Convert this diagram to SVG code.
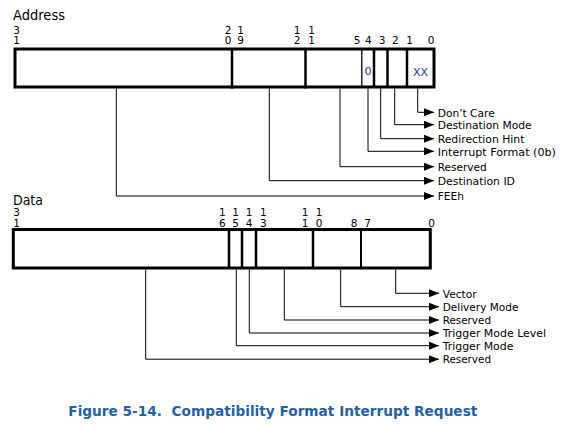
<svg xmlns="http://www.w3.org/2000/svg" width="562" height="426" viewBox="0 0 562 426">
<style>
.box{fill:#fff;stroke:#000;stroke-width:3}
.div{stroke:#000;stroke-width:2.5}
.thin{stroke:#000;stroke-width:1.3}
.conn{fill:none;stroke:#000;stroke-width:1;marker-end:url(#arr)}
.title{font-family:"DejaVu Sans",Verdana,sans-serif;font-size:13.5px;fill:#000}
.bit{font-family:"DejaVu Sans",Verdana,sans-serif;font-size:10.5px;fill:#000;text-anchor:middle}
.lbl{font-family:"DejaVu Sans",Tahoma,sans-serif;font-size:11px;fill:#000}
.fld{font-family:"DejaVu Sans",Tahoma,sans-serif;font-size:11px;fill:#1a3a8a;text-anchor:middle}
.cap{font-family:"DejaVu Sans",Verdana,sans-serif;font-size:14px;font-weight:bold;fill:#1f5fae}
</style>
<defs>
<marker id="arr" markerUnits="userSpaceOnUse" markerWidth="10" markerHeight="8" refX="10" refY="4" orient="auto">
<path d="M0,0 L10,4 L0,8 z" fill="#000"/>
</marker>
</defs>

<g id="address">
<text class="title" x="13" y="20" textLength="52" lengthAdjust="spacingAndGlyphs">Address</text>
<rect class="box" x="15" y="49" width="419" height="38"/>
<line class="div" x1="232" y1="49" x2="232" y2="88.5"/>
<line class="div" x1="305.5" y1="49" x2="305.5" y2="88.5"/>
<line class="thin" x1="361.8" y1="49" x2="361.8" y2="87"/>
<line class="div" x1="374" y1="49" x2="374" y2="87"/>
<line class="div" x1="387.5" y1="49" x2="387.5" y2="87"/>
<line class="div" x1="407" y1="49" x2="407" y2="87"/>
<g class="bits">
<text class="bit" x="16.7" y="34.3">3<tspan x="16.7" dy="10">1</tspan></text>
<text class="bit" x="228" y="34.3">2<tspan x="228" dy="10">0</tspan></text>
<text class="bit" x="240.7" y="34.3">1<tspan x="240.7" dy="10">9</tspan></text>
<text class="bit" x="297" y="34.3">1<tspan x="297" dy="10">2</tspan></text>
<text class="bit" x="311.7" y="34.3">1<tspan x="311.7" dy="10">1</tspan></text>
<text class="bit" x="357" y="44.3">5</text>
<text class="bit" x="368.3" y="44.3">4</text>
<text class="bit" x="382" y="44.3">3</text>
<text class="bit" x="395.3" y="44.3">2</text>
<text class="bit" x="409.7" y="44.3">1</text>
<text class="bit" x="431" y="44.3">0</text>
</g>
<text class="fld" x="368" y="75">0</text>
<text class="fld" x="420.5" y="76">XX</text>
</g>

<g id="data">
<text class="title" x="13" y="205" textLength="30" lengthAdjust="spacingAndGlyphs">Data</text>
<rect class="box" x="13.3" y="229.5" width="417" height="38.5"/>
<line class="div" x1="229" y1="229.5" x2="229" y2="268"/>
<line class="div" x1="242" y1="229.5" x2="242" y2="268"/>
<line class="div" x1="256" y1="229.5" x2="256" y2="268"/>
<line class="div" x1="313" y1="229.5" x2="313" y2="268"/>
<line class="div" x1="361" y1="229.5" x2="361" y2="268" style="stroke-width:2"/>
<g class="bits">
<text class="bit" x="16.7" y="216">3<tspan x="16.7" dy="10.7">1</tspan></text>
<text class="bit" x="222.3" y="216">1<tspan x="222.3" dy="10.7">6</tspan></text>
<text class="bit" x="235.7" y="216">1<tspan x="235.7" dy="10.7">5</tspan></text>
<text class="bit" x="249" y="216">1<tspan x="249" dy="10.7">4</tspan></text>
<text class="bit" x="263.3" y="216">1<tspan x="263.3" dy="10.7">3</tspan></text>
<text class="bit" x="305" y="216">1<tspan x="305" dy="10.7">1</tspan></text>
<text class="bit" x="319" y="216">1<tspan x="319" dy="10.7">0</tspan></text>
<text class="bit" x="354.2" y="226.7">8</text>
<text class="bit" x="367.5" y="226.7">7</text>
<text class="bit" x="431.7" y="226.7">0</text>
</g>
</g>

<g id="connectors">
<path class="conn" d="M417.7,88.5 V112.3 H434"/>
<path class="conn" d="M394.7,88.5 V124.7 H434"/>
<path class="conn" d="M380.7,88.5 V138.7 H434"/>
<path class="conn" d="M368,88.5 V151.3 H434"/>
<path class="conn" d="M340,88.5 V166.7 H434"/>
<path class="conn" d="M269.3,88.5 V180.7 H434"/>
<path class="conn" d="M116.3,88.5 V196 H434"/>

<path class="conn" d="M395.7,269.5 V293.3 H439"/>
<path class="conn" d="M340.7,269.5 V306.7 H439"/>
<path class="conn" d="M284.3,269.5 V320 H439"/>
<path class="conn" d="M249.3,269.5 V333 H439"/>
<path class="conn" d="M236.3,269.5 V345.7 H439"/>
<path class="conn" d="M145.7,269.5 V359.2 H439"/>
</g>

<g id="labels">
<text class="lbl" x="437.7" y="116.5" textLength="57" lengthAdjust="spacingAndGlyphs">Don’t Care</text>
<text class="lbl" x="437.7" y="128.9" textLength="94" lengthAdjust="spacingAndGlyphs">Destination Mode</text>
<text class="lbl" x="437.7" y="142.9" textLength="86.7" lengthAdjust="spacingAndGlyphs">Redirection Hint</text>
<text class="lbl" x="437.7" y="155.5" textLength="118.3" lengthAdjust="spacingAndGlyphs">Interrupt Format (0b)</text>
<text class="lbl" x="437.7" y="170.9" textLength="49" lengthAdjust="spacingAndGlyphs">Reserved</text>
<text class="lbl" x="437.7" y="184.9" textLength="77.3" lengthAdjust="spacingAndGlyphs">Destination ID</text>
<text class="lbl" x="437.7" y="200.2" textLength="26.3" lengthAdjust="spacingAndGlyphs">FEEh</text>

<text class="lbl" x="442.7" y="297.5" textLength="34" lengthAdjust="spacingAndGlyphs">Vector</text>
<text class="lbl" x="442.7" y="310.9" textLength="75.7" lengthAdjust="spacingAndGlyphs">Delivery Mode</text>
<text class="lbl" x="442.7" y="324.2" textLength="48.3" lengthAdjust="spacingAndGlyphs">Reserved</text>
<text class="lbl" x="442.7" y="337.2" textLength="103.3" lengthAdjust="spacingAndGlyphs">Trigger Mode Level</text>
<text class="lbl" x="442.7" y="349.9" textLength="70.7" lengthAdjust="spacingAndGlyphs">Trigger Mode</text>
<text class="lbl" x="442.7" y="363.4" textLength="48.3" lengthAdjust="spacingAndGlyphs">Reserved</text>
</g>

<text id="caption" class="cap" x="68.3" y="416" textLength="409" lengthAdjust="spacingAndGlyphs" xml:space="preserve">Figure 5-14.&#160; Compatibility Format Interrupt Request</text>
</svg>
